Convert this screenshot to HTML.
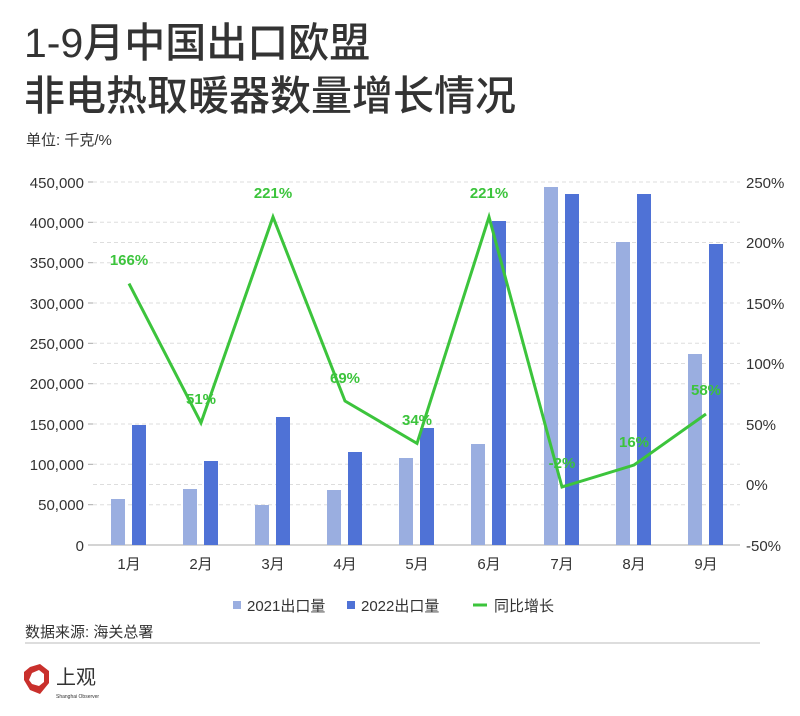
<!DOCTYPE html><html><head><meta charset="utf-8"><style>body{margin:0;background:#fff}svg{display:block;font-family:"Liberation Sans","Noto Sans CJK SC",sans-serif}</style></head><body>
<svg width="800" height="716" viewBox="0 0 800 716">
<text x="24" y="57" font-size="41" font-weight="500" fill="#333">1-9月中国出口欧盟</text>
<text x="24" y="110" font-size="41" font-weight="500" fill="#333">非电热取暖器数量增长情况</text>
<text x="26" y="145" font-size="15" fill="#333">单位: 千克/%</text>
<g stroke="#ddd" stroke-dasharray="4,3" stroke-width="1">
<line x1="93" x2="740" y1="182" y2="182"/><line x1="93" x2="740" y1="222.3" y2="222.3"/><line x1="93" x2="740" y1="262.7" y2="262.7"/><line x1="93" x2="740" y1="303" y2="303"/><line x1="93" x2="740" y1="343.3" y2="343.3"/><line x1="93" x2="740" y1="383.7" y2="383.7"/><line x1="93" x2="740" y1="424" y2="424"/><line x1="93" x2="740" y1="464.3" y2="464.3"/><line x1="93" x2="740" y1="504.7" y2="504.7"/>
<line x1="93" x2="740" y1="242.5" y2="242.5"/><line x1="93" x2="740" y1="363.5" y2="363.5"/><line x1="93" x2="740" y1="484.5" y2="484.5"/>
</g>
<line x1="93" x2="740" y1="545" y2="545" stroke="#aaa"/>
<g stroke="#aaa"><line x1="88" x2="93" y1="182" y2="182"/><line x1="88" x2="93" y1="222.3" y2="222.3"/><line x1="88" x2="93" y1="262.7" y2="262.7"/><line x1="88" x2="93" y1="303" y2="303"/><line x1="88" x2="93" y1="343.3" y2="343.3"/><line x1="88" x2="93" y1="383.7" y2="383.7"/><line x1="88" x2="93" y1="424" y2="424"/><line x1="88" x2="93" y1="464.3" y2="464.3"/><line x1="88" x2="93" y1="504.7" y2="504.7"/><line x1="88" x2="93" y1="545" y2="545"/></g>
<g font-size="15" fill="#333" text-anchor="end">
<text x="84" y="188">450,000</text><text x="84" y="228">400,000</text><text x="84" y="268">350,000</text><text x="84" y="309">300,000</text><text x="84" y="349">250,000</text><text x="84" y="389">200,000</text><text x="84" y="430">150,000</text><text x="84" y="470">100,000</text><text x="84" y="510">50,000</text><text x="84" y="551">0</text>
</g>
<g font-size="15" fill="#333">
<text x="746" y="188">250%</text><text x="746" y="248">200%</text><text x="746" y="309">150%</text><text x="746" y="369">100%</text><text x="746" y="430">50%</text><text x="746" y="490">0%</text><text x="746" y="551">-50%</text>
</g>
<g fill="#9aaee0">
<rect x="111" y="499" width="14" height="46"/><rect x="183" y="489" width="14" height="56"/><rect x="255" y="505" width="14" height="40"/><rect x="327" y="490" width="14" height="55"/><rect x="399" y="458" width="14" height="87"/><rect x="471" y="444" width="14" height="101"/><rect x="544" y="187" width="14" height="358"/><rect x="616" y="242" width="14" height="303"/><rect x="688" y="354" width="14" height="191"/>
</g>
<g fill="#4f72d6">
<rect x="132" y="425" width="14" height="120"/><rect x="204" y="461" width="14" height="84"/><rect x="276" y="417" width="14" height="128"/><rect x="348" y="452" width="14" height="93"/><rect x="420" y="428" width="14" height="117"/><rect x="492" y="221" width="14" height="324"/><rect x="565" y="194" width="14" height="351"/><rect x="637" y="194" width="14" height="351"/><rect x="709" y="244" width="14" height="301"/>
</g>
<polyline fill="none" stroke="#3cc43c" stroke-width="3" stroke-linejoin="miter" points="129,283.6 201,422.8 273,217 345,401 417,443.4 489,217 562,487 634,465 706,414"/>
<g font-size="15" fill="#3cc43c" font-weight="bold" text-anchor="middle">
<text x="129" y="265">166%</text><text x="201" y="404">51%</text><text x="273" y="198">221%</text><text x="345" y="383">69%</text><text x="417" y="425">34%</text><text x="489" y="198">221%</text><text x="562" y="468">-2%</text><text x="634" y="447">16%</text><text x="706" y="395">58%</text>
</g>
<g font-size="15" fill="#333" text-anchor="middle">
<text x="129" y="569">1月</text><text x="201" y="569">2月</text><text x="273" y="569">3月</text><text x="345" y="569">4月</text><text x="417" y="569">5月</text><text x="489" y="569">6月</text><text x="562" y="569">7月</text><text x="634" y="569">8月</text><text x="706" y="569">9月</text>
</g>
<rect x="233" y="601" width="8" height="8" fill="#9aaee0"/><text x="247" y="611" font-size="15" fill="#333">2021出口量</text>
<rect x="347" y="601" width="8" height="8" fill="#4f72d6"/><text x="361" y="611" font-size="15" fill="#333">2022出口量</text>
<line x1="473" x2="487" y1="605" y2="605" stroke="#3cc43c" stroke-width="3"/><text x="494" y="611" font-size="15" fill="#333">同比增长</text>
<text x="25" y="637" font-size="15" fill="#333">数据来源: 海关总署</text>
<line x1="25" x2="760" y1="643" y2="643" stroke="#ddd" stroke-width="2"/>
<polygon points="30,667 40,664 49,671 49,683 40,694 30,690 24,680 24,672" fill="#c9302c"/>
<polygon points="32,673 39,670 44,674 44,682 39,686 32,684 29,680" fill="#fff"/>
<text x="56" y="684" font-size="20" fill="#333">上观</text>
<text x="56" y="698" font-size="5" fill="#333">Shanghai Observer</text>
</svg></body></html>
